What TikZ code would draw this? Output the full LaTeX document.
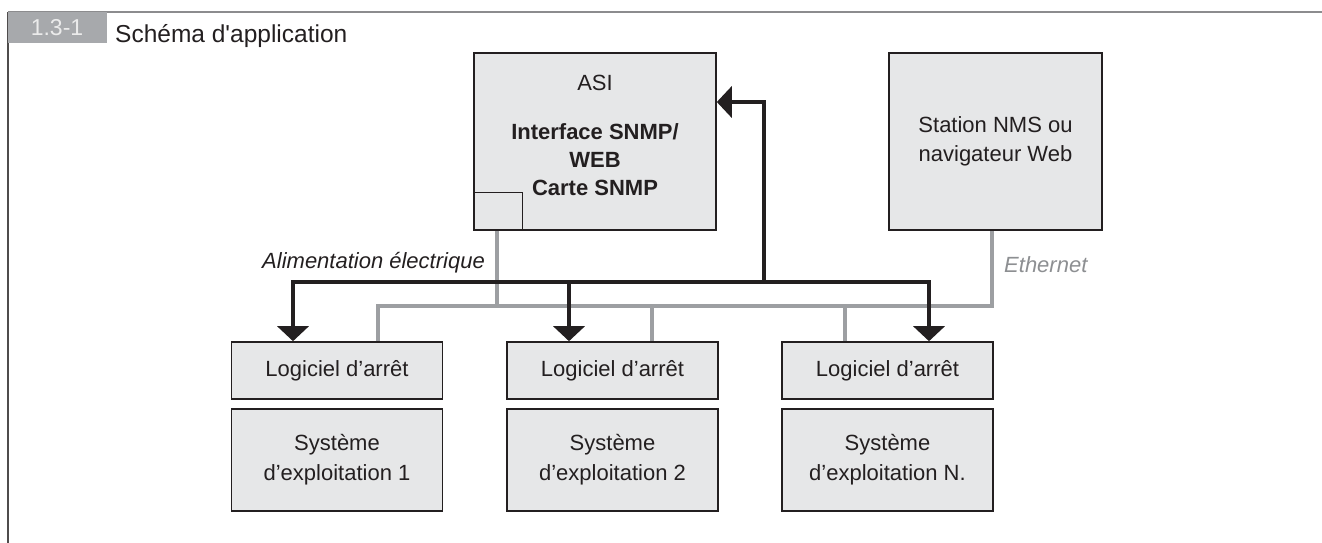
\documentclass[tikz,border=0pt]{standalone}
\usepackage{fontspec}
\setmainfont{Liberation Sans}
\usetikzlibrary{arrows.meta, calc}
\definecolor{boxfill}{HTML}{E6E7E8}
\definecolor{boxline}{HTML}{231F20}
\definecolor{ethgray}{HTML}{9D9FA2}
\definecolor{taggray}{HTML}{A7A9AC}
\definecolor{framegray}{HTML}{8C8C8E}

\begin{document}
\begin{tikzpicture}[x=1pt, y=-1pt,
  box/.style={draw=boxline, fill=boxfill, line width=1.6pt, text=boxline,
    font=\fontsize{22}{30}\selectfont, align=center, inner sep=0pt},
  soft/.style={box, minimum width=211pt, minimum height=57pt},
  os/.style={box, minimum width=211pt, minimum height=102pt},
  power/.style={draw=boxline, line width=4pt, -{Triangle[length=15pt,width=31pt]}},
  eth/.style={draw=ethgray, line width=4pt},
  lbl/.style={font=\fontsize{22}{26}\selectfont\itshape, inner sep=0pt}]
  \useasboundingbox (0,0) rectangle (1322,543);

  % Frame and title
  \draw[framegray, line width=1.2pt] (8,12) -- (1322,12);
  \draw[boxline!80, line width=1.4pt] (8,12) -- (8,543);
  \fill[taggray] (8,12) rectangle (107,43);
  \node[text=white!92!black, font=\fontsize{23}{26}\selectfont, inner sep=0pt] (tag) at (57,28) {1.3-1};
  \node[anchor=base west, text=boxline, font=\fontsize{24.5}{28}\selectfont, inner sep=0pt]
    (title) at (115,43) {Schéma d\textquotesingle application};

  % ASI with its SNMP card
  \node[box, minimum width=242pt, minimum height=177pt] (asi) at (595,141.5) {};
  \node[text=boxline, font=\fontsize{22}{26}\selectfont, inner sep=0pt] (asilbl) at (595,83) {ASI};
  \node[text=boxline, font=\fontsize{22}{28}\selectfont\bfseries, align=center, inner sep=0pt]
    (snmp) at (595,160) {Interface SNMP/\\WEB\\Carte SNMP};
  \draw[boxline, line width=1.2pt] ($(asi.south west)+(0,-38)$) -| ($(asi.south west)+(49,0)$);

  % NMS station
  \node[box, minimum width=213pt, minimum height=177pt, font=\fontsize{22}{29}\selectfont]
    (st) at (995.5,141.5) {Station NMS ou\\navigateur Web};

  % Servers
  \node[soft] (l1) at (337,370.5) {Logiciel d’arrêt};
  \node[soft] (l2) at (612.5,370.5) {Logiciel d’arrêt};
  \node[soft] (l3) at (887.5,370.5) {Logiciel d’arrêt};
  \node[os] (s1) at (337,460) {Système\\d’exploitation 1};
  \node[os] (s2) at (612.5,460) {Système\\d’exploitation 2};
  \node[os] (s3) at (887.5,460) {Système\\d’exploitation N.};

  % Ethernet
  \coordinate (ethL) at (378,306);
  \coordinate (ethR) at (992,306);
  \draw[eth] (ethL |- l1.north) -- (ethL) -- (ethR) -- (ethR |- st.south);
  \draw[eth] ([xshift=-98pt]asi.south) -- ([xshift=-98pt]asi.south |- ethL);
  \draw[eth] ([xshift=39.5pt]l2.north) -- ([xshift=39.5pt]l2.north |- ethL);
  \draw[eth] ([xshift=-42.5pt]l3.north) -- ([xshift=-42.5pt]l3.north |- ethL);

  % Power supply
  \coordinate (hub) at (764,282);
  \draw[power] (hub) |- ([yshift=39.5pt]asi.east);
  \draw[power] (hub) -| ([xshift=-44pt]l1.north);
  \draw[power] (hub) -| ([xshift=-43.5pt]l2.north);
  \draw[power] (hub) -| ([xshift=41.5pt]l3.north);

  % Labels
  \node[lbl, anchor=east, text=boxline] (alim) at (485,263) {Alimentation électrique};
  \node[lbl, anchor=west, text=ethgray!90!black] (ethlbl) at (1004,265) {Ethernet};
\end{tikzpicture}
\end{document}
